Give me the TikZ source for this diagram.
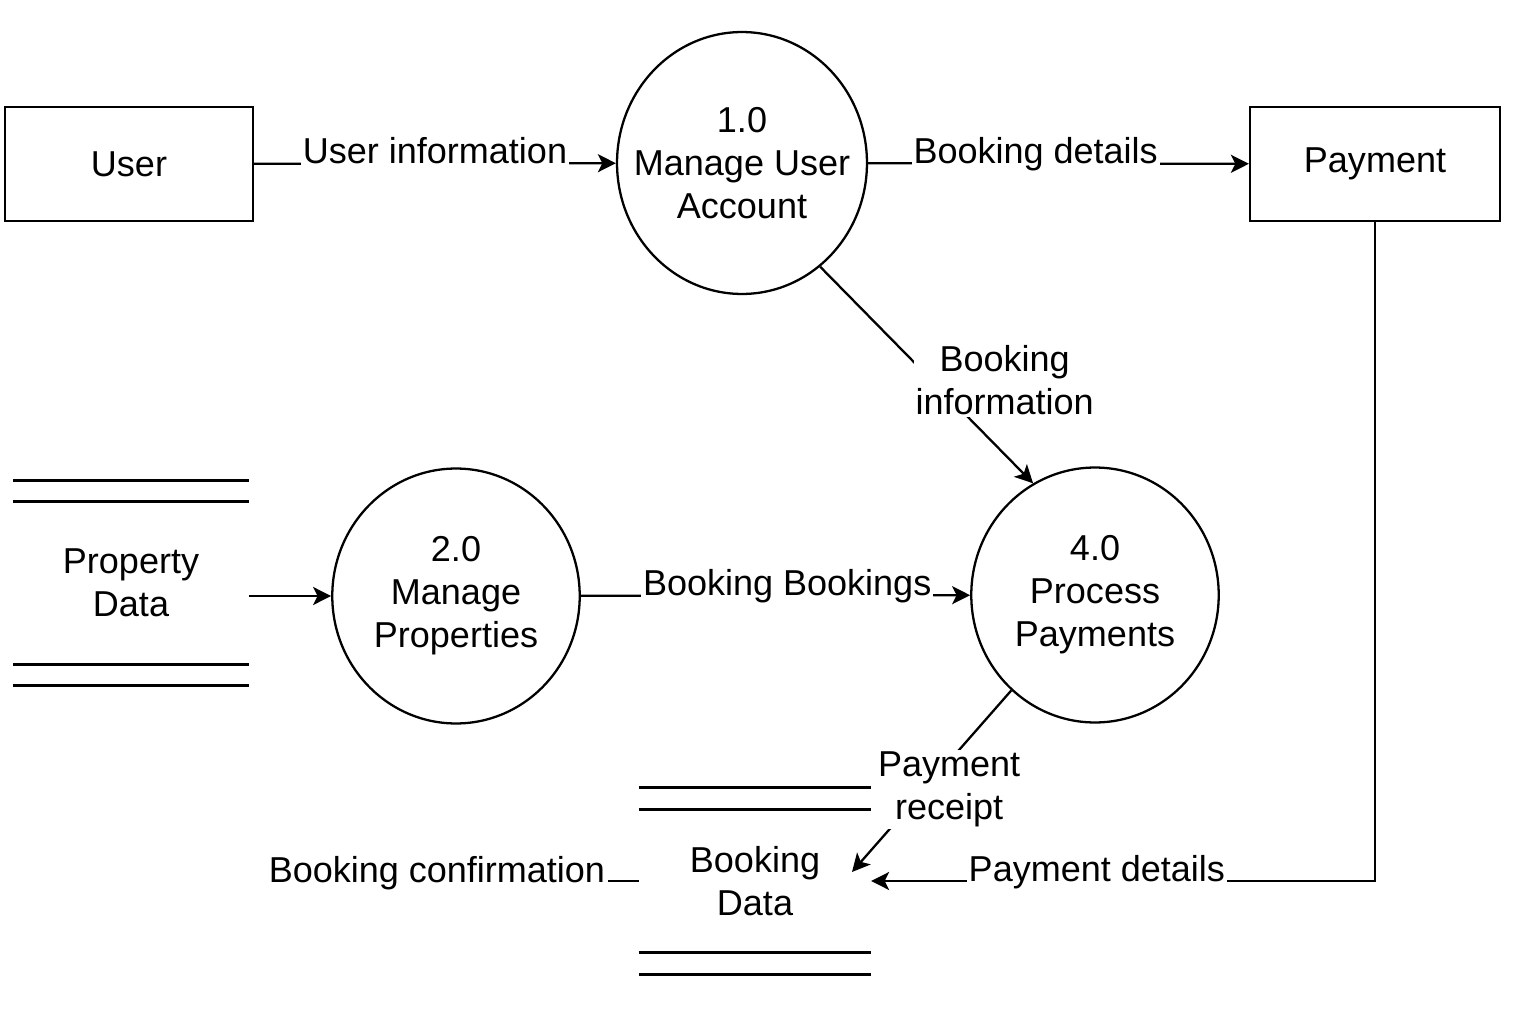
\documentclass[tikz,border=0pt]{standalone}
\usepackage{fontspec}
\setmainfont{Liberation Sans}
\usetikzlibrary{shapes.geometric,arrows.meta,calc,positioning}

\begin{document}
\begin{tikzpicture}[x=0.02cm,y=-0.02cm,line width=1.3pt,
  every node/.style={align=center,font=\fontsize{20.5}{24.5}\selectfont},
  entity/.style={draw,rectangle,minimum width=4.96cm,minimum height=2.28cm},
  process/.style={draw,ellipse,minimum width=4.95cm,minimum height=5.1cm,inner sep=-0.6cm},
  storeline/.style={line width=1.6pt},
  flow/.style={-{Stealth[length=3.6mm,width=3.6mm,inset=0.9mm]}},
  flowlabel/.style={fill=white,inner sep=1pt}]
\useasboundingbox (0,0) rectangle (1536,1024);
% external entities
\node [entity] (User) at (129,164) {User};
\node [entity,minimum width=5cm] (Payment) at (1375,164) {Payment};
% processes
\node [process,minimum width=5cm,minimum height=5.24cm] (ManageUser) at (742,163) {1.0\\Manage User\\Account};
\node [process] (ManageProperties) at (456,596) {2.0\\Manage\\Properties};
\node [process] (ProcessPayments) at (1095,595) {4.0\\Process\\Payments};
% data stores
\node [minimum width=4.66cm,minimum height=4.04cm] (PropertyData) at (131,583) {Property\\Data};
\node [minimum width=4.6cm,minimum height=3.68cm] (BookingData) at (755,881) {Booking\\Data};
\draw [storeline] (PropertyData.north west) -- (PropertyData.north east);
\draw [storeline] ($(PropertyData.north west)+(0,21)$) -- ($(PropertyData.north east)+(0,21)$);
\draw [storeline] ($(PropertyData.south west)+(0,-21)$) -- ($(PropertyData.south east)+(0,-21)$);
\draw [storeline] (PropertyData.south west) -- (PropertyData.south east);
\draw [storeline] (BookingData.north west) -- (BookingData.north east);
\draw [storeline] ($(BookingData.north west)+(0,22)$) -- ($(BookingData.north east)+(0,22)$);
\draw [storeline] ($(BookingData.south west)+(0,-22)$) -- ($(BookingData.south east)+(0,-22)$);
\draw [storeline] (BookingData.south west) -- (BookingData.south east);
% data flows
\draw [flow] (User) -- node [flowlabel,anchor=base] {User information} (ManageUser);
\draw [flow] (ManageUser) -- node [flowlabel,anchor=base,pos=0.44] {Booking details} (Payment);
\draw [flow] (ManageUser.-53) -- node [flowlabel,xshift=1.56cm,yshift=-0.11cm] {Booking\\information} (ProcessPayments.119);
\draw [flow] (PropertyData.east |- ManageProperties) -- (ManageProperties);
\draw [flow] (ManageProperties) -- node [flowlabel,anchor=base,pos=0.53] {Booking Bookings} (ProcessPayments);
\coordinate (receiptEnd) at (852,872);
\draw [flow] (ProcessPayments) -- node [flowlabel,xshift=0.35cm,yshift=-0.17cm] {Payment\\receipt} (receiptEnd);
\draw [flow] (Payment.south) |- node [flowlabel,anchor=base,pos=0.776] {Payment details} (BookingData.east);
\node [flowlabel,anchor=base east] (confirmLabel) at (608,882) {Booking confirmation};
\draw (BookingData.west) -- (BookingData.west -| confirmLabel.east);
\end{tikzpicture}
\end{document}
